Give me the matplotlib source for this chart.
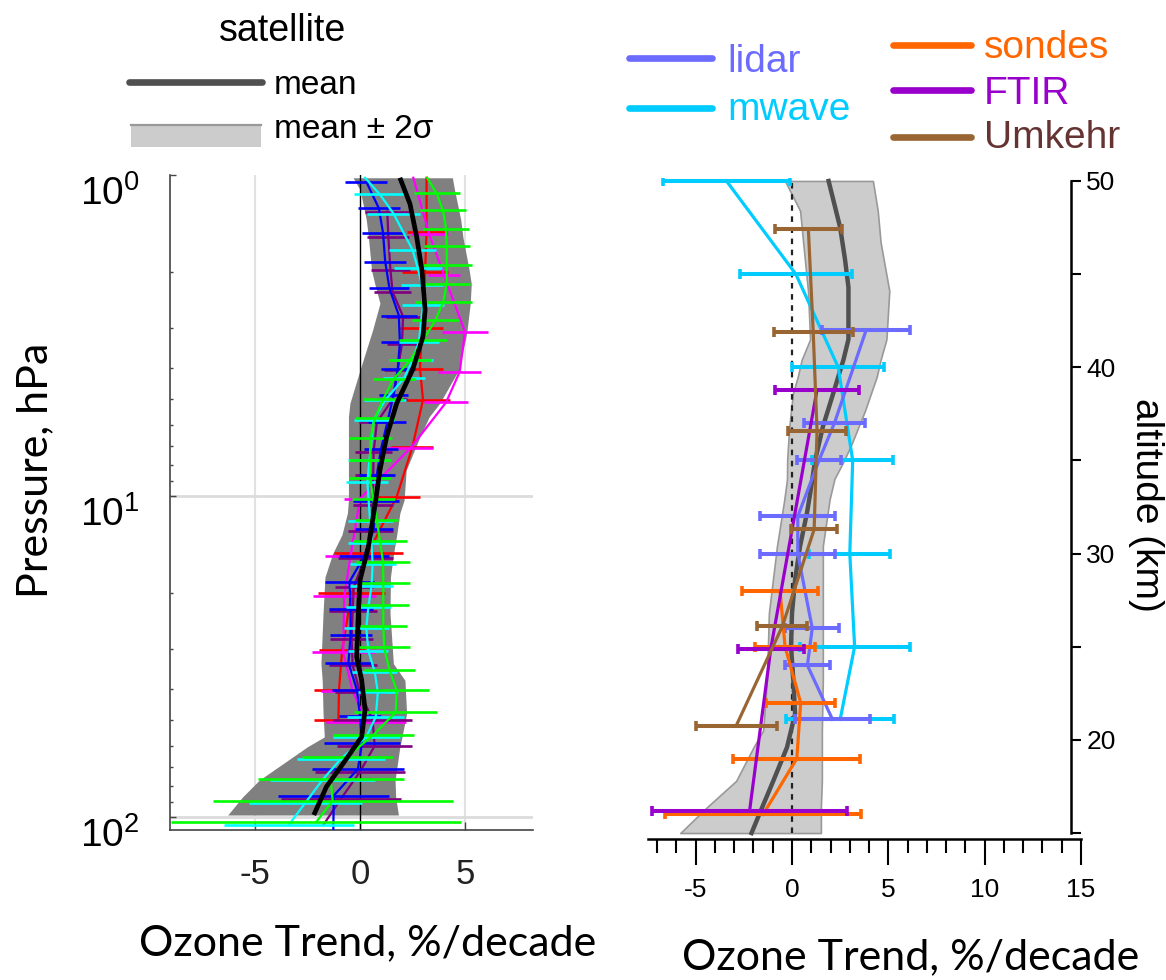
import numpy as np
import matplotlib
matplotlib.use('Agg')
import matplotlib.pyplot as plt
from matplotlib.lines import Line2D
from matplotlib.patches import Rectangle

plt.rcParams['mathtext.fontset'] = 'custom'
plt.rcParams['mathtext.rm'] = 'Lato'
plt.rcParams['font.family'] = ['Liberation Sans', 'DejaVu Sans']

# ---------------- left panel: satellite trends vs pressure (hPa) ----------------
band_p = [1.02, 1.11, 1.38, 1.56, 1.98, 2.18, 2.51, 3.04, 3.19, 4.05, 5.14, 5.66, 6.53, 8.30,
          10.3, 11.3, 13.2, 15.1, 17.9, 23.2, 33.3, 37.5, 47.6, 56.3, 60.4, 76.8, 86.7, 98.6]
band_lo = [-0.33, 0.0, 0.3, 0.4, 0.55, 0.7, 0.95, 0.6, 0.5, 0.0, -0.48, -0.55, -0.55, -0.55,
           -0.55, -0.6, -0.86, -1.3, -1.67, -1.76, -1.86, -1.8, -1.76, -1.7, -2.5, -4.8, -5.6, -6.3]
band_hi = [4.4, 4.5, 4.8, 4.9, 5.2, 5.3, 5.25, 5.1, 5.05, 4.7, 3.8, 3.3, 2.86, 2.2,
           2.1, 1.9, 1.75, 1.6, 1.45, 1.43, 1.59, 2.14, 2.22, 2.0, 1.9, 1.67, 1.7, 1.83]

mean_p = [1.02, 1.23, 1.56, 1.98, 2.63, 3.19, 4.05, 5.14, 6.53, 8.30, 10.3, 14.4, 18.3, 23.2,
          31.7, 37.5, 46.4, 56.3, 68.1, 80.5, 98.6]
mean_v = [1.9, 2.38, 2.7, 2.95, 3.1, 3.0, 2.5, 1.75, 1.27, 0.95, 0.75, 0.4, 0.0, -0.08,
          -0.16, 0.08, 0.24, 0.08, -0.8, -1.6, -2.2]

red_p = [1.02, 1.50, 2.01, 3.0, 4.02, 5.02, 7.02, 10.05, 15.0, 20.0, 30.2, 40.1, 49.9]
red_v = [3.17, 3.17, 3.1, 2.94, 2.86, 3.0, 2.5, 1.75, 0.4, -0.4, -0.85, -1.0, -1.03]
red_err = [0, 0.95, 1.1, 1.03, 1.07, 1.3, 1.0, 1.1, 1.63, 1.59, 1.1, 1.2, 1.17]

mag_p = [1.02, 1.53, 2.05, 3.08, 4.10, 5.11, 7.10, 10.2, 15.4, 20.5, 30.7, 40.5, 50.5]
mag_v = [2.54, 3.3, 4.0, 5.0, 4.75, 4.1, 2.4, 0.0, -0.45, -0.75, -0.8, -0.35, 0.3]
mag_err = [0, 0.87, 0.75, 1.1, 1.03, 1.03, 1.1, 0.75, 1.2, 1.5, 1.5, 1.5, 1.9]

pur_p = [1.30, 1.56, 1.98, 2.31, 2.76, 3.35, 4.05, 5.0, 5.9, 7.28, 8.6, 10.7, 12.9, 15.6,
         19.2, 22.9, 27.8, 33.7, 40.9, 49.9, 60.0, 72.3, 87.6, 106]
pur_v = [1.3, 1.35, 1.45, 1.55, 2.05, 2.0, 1.8, 1.55, 0.8, 0.65, 0.63, 0.6, 0.5, 0.25,
         -0.3, -0.35, -0.4, -0.35, 0.0, 0.6, 0.7, 0.0, -0.9, -1.75]
pur_err = [1.07, 1.0, 0.95, 0.9, 0.8, 0.7, 0.67, 0.7, 0.85, 0.87, 0.85, 0.95, 1.07, 1.3,
           0.9, 1.15, 1.03, 1.15, 1.2, 1.9, 1.8, 2.14, 2.86, 0]

blue_p = [1.05, 1.27, 1.52, 1.86, 2.25, 2.74, 3.32, 4.02, 4.85, 5.90, 7.14, 8.60, 10.4, 12.7,
          15.4, 18.5, 22.5, 27.2, 33.1, 40.1, 48.5, 58.7, 70.9, 85.8, 110]
blue_v = [0.3, 0.9, 1.1, 1.2, 1.4, 1.85, 1.9, 1.8, 1.6, 1.3, 1.0, 0.8, 0.75, 0.65,
          0.2, -0.5, -0.45, -0.45, -0.55, -0.15, 0.0, 0.1, -0.1, -1.25, -1.27]
blue_err = [1.0, 1.0, 1.0, 1.0, 0.95, 0.85, 0.9, 0.8, 0.7, 0.9, 0.8, 0.85, 1.1, 0.9,
            1.2, 1.15, 1.05, 1.0, 1.1, 1.2, 1.0, 1.8, 2.2, 2.65, 0]

cyan_p = [1.02, 1.15, 1.32, 1.71, 1.95, 2.2, 2.54, 3.32, 3.77, 4.3, 5.02, 5.8, 7.72, 9.02,
          12.0, 14.0, 16.3, 19.1, 22.1, 25.8, 30.4, 35.3, 40.9, 48.8, 56.3, 65.8, 76.8, 90.3, 106]
cyan_v = [0.24, 0.95, 1.6, 2.5, 2.75, 2.95, 3.0, 2.8, 2.5, 2.1, 1.2, 0.65, 0.45, 0.35,
          0.48, 0.55, 0.6, 0.55, 0.4, 0.3, 0.4, 0.7, 0.85, 0.75, 0.3, -0.9, -1.8, -2.6, -3.4]
cyan_err = [0, 1.23, 1.27, 1.1, 1.15, 1.0, 1.0, 0.95, 1.0, 1.0, 1.0, 0.95, 1.0, 1.0,
            1.07, 1.1, 1.1, 1.03, 1.07, 1.07, 0.95, 1.07, 0.95, 1.35, 1.6, 2.1, 2.5, 2.7, 3.1]

green_p = [1.02, 1.14, 1.29, 1.47, 1.67, 1.91, 2.18, 2.48, 2.83, 3.27, 3.77, 4.32, 5.0, 5.73,
           6.61, 7.72, 8.81, 10.2, 11.9, 13.8, 16.1, 18.7, 21.9, 25.4, 29.6, 34.8, 40.3, 47.2,
           55.4, 64.9, 76.0, 89.0, 104]
green_v = [3.2, 3.65, 3.95, 4.1, 4.13, 4.13, 4.13, 3.97, 3.6, 3.0, 2.4, 1.6, 1.1, 0.7,
           0.5, 0.48, 0.48, 0.63, 0.8, 0.95, 1.1, 1.11, 1.11, 1.11, 1.15, 1.4, 1.75, 1.7,
           0.65, -0.6, -1.4, -1.3, -2.1]
green_err = [0, 1.1, 1.1, 1.1, 1.1, 1.19, 1.1, 1.35, 1.1, 1.15, 1.0, 1.0, 0.95, 0.95,
             1.03, 1.0, 1.0, 1.03, 1.03, 1.27, 1.27, 1.25, 1.23, 1.13, 1.23, 1.23, 1.55, 1.98,
             1.94, 2.18, 3.48, 5.71, 6.9]

# ---------------- right panel: ground-based trends vs altitude (km) ----------------
gb_band_z = [50, 48.4, 46.7, 44.1, 41.5, 40.4, 39.5, 38.6, 37.7, 36.8, 35.9, 35.0, 34.0, 32.9,
             30.4, 26.8, 25.0, 23.2, 20.5, 19.6, 17.8, 16.4, 15.0]
gb_band_lo = [-0.36, 0.42, 0.58, 0.83, 0.94, 0.5, 0.3, 0.05, -0.05, -0.14, -0.2, -0.25, -0.26, -0.4,
              -0.78, -1.2, -1.25, -1.3, -1.5, -2.0, -2.9, -4.4, -5.8]
gb_band_hi = [4.2, 4.45, 4.6, 5.05, 4.9, 4.6, 4.4, 4.1, 3.8, 3.45, 3.1, 2.7, 2.2, 1.95,
              1.6, 1.6, 1.6, 1.6, 1.55, 1.55, 1.55, 1.5, 1.5]
gb_mean_z = [50, 47.5, 45.8, 44.3, 41.5, 40.4, 38.6, 36.8, 35, 33.2, 32.2, 30.4, 28.6, 26.8,
             25, 23.2, 21.4, 19.6, 17.8, 16.1, 15]
gb_mean_v = [1.9, 2.5, 2.75, 2.93, 2.93, 2.67, 2.14, 1.6, 1.2, 0.94, 0.78, 0.42, 0.16, 0.0,
             -0.05, 0.07, 0.16, -0.26, -0.97, -1.66, -2.1]

mwave_z = [50, 45, 40, 35, 30, 25, 21.1]
mwave_v = [-3.4, 0.2, 2.4, 3.15, 3.0, 3.25, 2.5]
mwave_err = [3.3, 2.9, 2.4, 2.1, 2.1, 2.85, 2.8]

lidar_z = [42, 37, 35, 32, 30, 26, 24, 21.1]
lidar_v = [3.85, 2.2, 1.4, 0.3, 0.3, 1.05, 0.8, 2.1]
lidar_err = [2.3, 1.6, 1.15, 1.95, 1.95, 1.4, 1.15, 1.95]

sondes_z = [28, 25, 22, 19, 16]
sondes_v = [-0.62, -0.36, 0.45, 0.25, -1.5]
sondes_err = [1.97, 1.55, 1.8, 3.3, 5.1]

ftir_z = [38.8, 24.9, 16.2]
ftir_v = [1.3, -1.1, -2.2]
ftir_err = [2.2, 1.7, 5.05]

umkehr_z = [47.4, 41.9, 36.6, 31.3, 26.1, 20.75]
umkehr_v = [0.85, 1.1, 1.3, 1.15, -0.5, -2.9]
umkehr_err = [1.75, 2.05, 1.5, 1.2, 1.3, 2.1]

W, H = 1166, 980
fig = plt.figure(figsize=(W / 100, H / 100), dpi=100)


def fx(x):
    return x / W


def fy(y):
    return 1 - y / H


# ---- left axes ----
ax1 = fig.add_axes([fx(170), fy(830), fx(533) - fx(170), fy(175) - fy(830)])
ax1.set_yscale('log')
ax1.set_xlim(-9.05, 8.24)
ax1.set_ylim(109.8, 1.0)

ax1.fill_betweenx(band_p, band_lo, band_hi, color='#808080', lw=0, zorder=1)
for gx in [-5, 5]:
    ax1.axvline(gx, color='#e2e2e2', lw=1.5, zorder=0)
for gy in [10, 100]:
    ax1.axhline(gy, color='#dcdcdc', lw=2, zorder=0.5)
ax1.axvline(0, color='black', lw=1, zorder=2)


def sat_series(p, v, err, color, z):
    ax1.plot(v, p, color=color, lw=1.6, zorder=z)
    ax1.errorbar(v, p, xerr=err, fmt='none', ecolor=color, elinewidth=1.9, capsize=0, zorder=z)


sat_series(red_p, red_v, red_err, '#ff0000', 3)
sat_series(mag_p, mag_v, mag_err, '#ff00ff', 3.1)
sat_series(pur_p, pur_v, pur_err, '#800080', 3.2)
sat_series(blue_p, blue_v, blue_err, '#0000ff', 3.3)
sat_series(cyan_p, cyan_v, cyan_err, '#00ffff', 3.4)
sat_series(green_p, green_v, green_err, '#00ff00', 3.5)
ax1.plot(mean_v, mean_p, color='black', lw=3.4, zorder=4, solid_capstyle='butt')

for s in ['top', 'right']:
    ax1.spines[s].set_visible(False)
for s in ['left', 'bottom']:
    ax1.spines[s].set_color('#444444')
    ax1.spines[s].set_linewidth(1.2)
ax1.set_yticks([1, 10, 100])
ax1.set_yticklabels([r'$\mathregular{10^{0}}$', r'$\mathregular{10^{1}}$', r'$\mathregular{10^{2}}$'],
                    fontsize=28, va='top')
ax1.set_yticks([2, 3, 4, 5, 6, 7, 8, 9, 20, 30, 40, 50, 60, 70, 80, 90], minor=True)
ax1.yaxis.set_minor_formatter(plt.NullFormatter())
ax1.tick_params(axis='y', which='major', direction='in', length=4, width=1, color='#444444', pad=22)
ax1.tick_params(axis='y', which='minor', direction='in', length=2.5, width=1, color='#444444')
ax1.set_xticks([-5, 0, 5])
ax1.set_xticklabels(['-5', '0', '5'], fontsize=25, color='#222222',
                    family=['Liberation Sans Narrow', 'Liberation Sans'])
ax1.tick_params(axis='x', direction='in', length=6, width=1, color='#444444', pad=20)

# ---- right axes ----
ax2 = fig.add_axes([fx(647.5), fy(839), fx(1081) - fx(647.5), fy(178) - fy(839)])
ax2.set_xlim(-7.5, 15)
ax2.set_ylim(14.68, 50.16)

ax2.fill_betweenx(gb_band_z, gb_band_lo, gb_band_hi, facecolor='#cccccc', edgecolor='#999999',
                  lw=1.2, zorder=1)
ax2.plot([0, 0], [15, 50], color='#222222', lw=1.6, ls=(0, (2.5, 2.5)), zorder=2)
ax2.plot(gb_mean_v, gb_mean_z, color='#505050', lw=3.2, zorder=3)


def gb_series(z, v, err, color, zo):
    ax2.plot(v, z, color=color, lw=2.3, zorder=zo)
    ax2.errorbar(v, z, xerr=err, fmt='none', ecolor=color, elinewidth=2.9, capsize=3.5,
                 capthick=2.6, zorder=zo)


gb_series(mwave_z, mwave_v, mwave_err, '#00ccff', 4)
gb_series(lidar_z, lidar_v, lidar_err, '#6b6bff', 4.1)
gb_series(sondes_z, sondes_v, sondes_err, '#ff6600', 4.2)
gb_series(ftir_z, ftir_v, ftir_err, '#9900cc', 4.3)
gb_series(umkehr_z, umkehr_v, umkehr_err, '#996633', 4.4)

for s in ['top', 'left']:
    ax2.spines[s].set_visible(False)
ax2.spines['right'].set_position(('axes', (1071 - 647.5) / (1081 - 647.5)))
ax2.spines['right'].set_bounds(15, 50)
ax2.spines['right'].set_linewidth(1.8)
ax2.spines['bottom'].set_linewidth(1.8)
ax2.yaxis.tick_right()
ax2.set_yticks([20, 30, 40, 50])
ax2.set_yticks([15, 25, 35, 45], minor=True)
ax2.yaxis.set_minor_formatter(plt.NullFormatter())
ax2.tick_params(axis='y', which='both', direction='out', length=7, width=1.5, labelsize=19, pad=4)
ax2.set_xticks([-5, 0, 5, 10, 15])
ax2.set_xticks(np.arange(-7, 15), minor=True)
ax2.tick_params(axis='x', which='major', direction='out', length=19, width=1.5, labelsize=19, pad=9)
ax2.tick_params(axis='x', which='minor', direction='out', length=10, width=1.5)
ax2.set_xticklabels(['-5', '0', '5', '10', '15'])

# ---- axis labels ----
fig.text(fx(35), fy(470), 'Pressure, hPa', rotation=90, ha='center', va='center',
         fontsize=31, family='Lato')
fig.text(fx(368), fy(943), 'Ozone Trend, %/decade', ha='center', va='center', fontsize=31, family='Lato')
fig.text(fx(911), fy(957), 'Ozone Trend, %/decade', ha='center', va='center', fontsize=31, family='Lato')
fig.text(fx(1146), fy(505), 'altitude (km)', rotation=270, ha='center', va='center', fontsize=28)

# ---- satellite legend ----
fig.text(fx(283), fy(41), 'satellite', ha='center', va='baseline', fontsize=27)
fig.add_artist(Line2D([fx(129), fx(262)], [fy(82), fy(82)], transform=fig.transFigure,
                      color='#505050', lw=4.8, solid_capstyle='round'))
fig.text(fx(274), fy(94), 'mean', ha='left', va='baseline', fontsize=24)
fig.add_artist(Rectangle((fx(131), fy(147)), fx(261) - fx(131), fy(125) - fy(147),
                         transform=fig.transFigure, facecolor='#cccccc', edgecolor='none'))
fig.add_artist(Line2D([fx(131), fx(261)], [fy(125.5), fy(125.5)], transform=fig.transFigure,
                      color='#999999', lw=1.6))
fig.text(fx(274), fy(138), 'mean \u00b1 2\u03c3', ha='left', va='baseline', fontsize=24)

# ---- ground-based legend ----
legend_items = [
    ('lidar', '#6b6bff', '#6b6bff', 629, 712, 58, 727, 72),
    ('mwave', '#00ccff', '#00ccff', 629, 712, 108, 727, 120),
    ('sondes', '#ff6600', '#ff6600', 893, 971, 45, 984, 58),
    ('FTIR', '#9900cc', '#9900cc', 893, 971, 90, 984, 104),
    ('Umkehr', '#996633', '#663333', 893, 971, 137, 984, 148),
]
for name, lc, tc, x0, x1, yy, xt, yb in legend_items:
    fig.add_artist(Line2D([fx(x0), fx(x1)], [fy(yy), fy(yy)], transform=fig.transFigure,
                          color=lc, lw=4.8, solid_capstyle='round'))
    fig.text(fx(xt), fy(yb), name, ha='left', va='baseline', fontsize=28, color=tc)

fig.savefig('out.png', dpi=100)
